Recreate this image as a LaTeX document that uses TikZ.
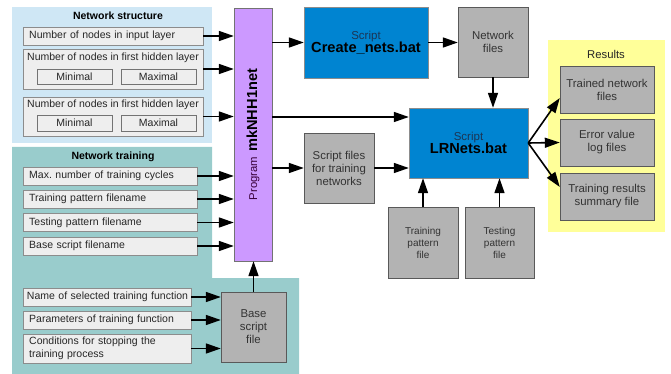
\documentclass[tikz,border=0pt]{standalone}
\usepackage{fontspec}
\setmainfont{Liberation Sans}
\usepackage{xcolor}
\usetikzlibrary{arrows.meta}

\definecolor{structbg}{HTML}{CFE7F5}
\definecolor{trainbg}{HTML}{99CCCC}
\definecolor{resbg}{HTML}{FFFF99}
\definecolor{progfill}{HTML}{CC99FF}
\definecolor{scriptfill}{HTML}{0084D1}
\definecolor{filefill}{HTML}{B3B3B3}
\definecolor{fieldfill}{HTML}{EEEEEE}
\definecolor{scripttext}{HTML}{1B3555}

\begin{document}
\begin{tikzpicture}[x=1pt, y=-1pt,
  field/.style={draw=black!45, fill=fieldfill, text=black!85,
                font=\fontsize{10.5}{12.5}\selectfont, align=left, anchor=west,
                inner xsep=6pt, inner ysep=0pt, minimum height=18pt},
  fieldgroup/.style={draw=black!45, fill=fieldfill, minimum width=180pt, inner sep=0pt},
  fieldhead/.style={text=black!85, font=\fontsize{10.5}{12.5}\selectfont, inner sep=0pt},
  choice/.style={draw=black!55, fill=fieldfill, text=black!85,
                 font=\fontsize{10.5}{12.5}\selectfont,
                 minimum width=75pt, minimum height=15pt, inner sep=0pt},
  filebox/.style={draw=black!65, fill=filefill, text=black!80, align=center,
                  font=\fontsize{11.4}{13}\selectfont, inner sep=0pt,
                  minimum width=70pt, minimum height=70pt},
  resultbox/.style={filebox, minimum width=94pt, minimum height=47pt},
  scriptbox/.style={draw=black!45, fill=scriptfill, align=center, inner sep=0pt},
  paneltitle/.style={font=\fontsize{10.5}{12.5}\selectfont\bfseries, inner sep=0pt},
  arr/.style={-{Triangle[length=15pt,width=10pt]}, line width=1.6pt},
]
  \useasboundingbox (0,0) rectangle (671,374);

  %% panels
  \fill[structbg] (12,7) rectangle (212,143);
  \fill[trainbg] (12,147) -- (212,147) -- (212,278) -- (299,278)
                 -- (299,374) -- (12,374) -- cycle;
  \fill[resbg] (548,40) rectangle (665,232);

  %% network structure
  \node[paneltitle] (structtitle) at (118,16) {Network structure};
  \node[field, text width=168pt] (inlayer) at (23,36) {Number of nodes in input layer};
  \node[fieldgroup, minimum height=40pt] (hidA) at (113,69) {};
  \node[fieldhead] (hidAtext) at (113,58) {Number of nodes in first hidden layer};
  \node[choice] (hidAmin) at (74.5,76.5) {Minimal};
  \node[choice] (hidAmax) at (158.5,76.5) {Maximal};
  \node[fieldgroup, minimum height=39pt] (hidB) at (113,116.5) {};
  \node[fieldhead] (hidBtext) at (113,105) {Number of nodes in first hidden layer};
  \node[choice, minimum height=16pt] (hidBmin) at (74.5,123) {Minimal};
  \node[choice, minimum height=16pt] (hidBmax) at (158.5,123) {Maximal};

  %% network training
  \node[paneltitle] (traintitle) at (113,157) {Network training};
  \node[field, text width=162pt] (cycles)    at (23,176)   {Max.\ number of training cycles};
  \node[field, text width=162pt] (trainname) at (23,199)   {Training pattern filename};
  \node[field, text width=162pt] (testname)  at (23,222.5) {Testing pattern filename};
  \node[field, text width=162pt] (basename)  at (23,246)   {Base script filename};
  \node[field, text width=164pt, inner xsep=2pt] (funcname) at (23,297)
    {\,Name of selected training function};
  \node[field, text width=156pt] (funcpar)   at (23,320)   {Parameters of training function};
  \node[field, text width=156pt, minimum height=29pt] (stopcond) at (23,348.5)
    {Conditions for stopping the\\training process};

  %% program and files
  \node[draw=black!55, fill=progfill, minimum width=38pt, minimum height=253pt,
        inner sep=0pt] (prog) at (253,134.5) {};
  \node[rotate=90, inner sep=0pt] (proglabel) at (prog.center)
    {{\fontsize{11.3}{13}\selectfont\color{violet!45!black}Program}\enspace
     {\fontsize{14.6}{16}\selectfont\bfseries mkNHH1net}};
  \node[filebox, minimum width=65pt] (basefile) at (253.5,327) {Base\\script\\file};
  \node[scriptbox, minimum width=124pt, minimum height=71pt] (create) at (366,42.5)
    {{\fontsize{11.5}{13}\selectfont\color{scripttext}Script}\\[-1pt]
     {\fontsize{14.6}{16}\selectfont\bfseries Create\_nets.bat}};
  \node[filebox] (netfiles) at (493,42) {Network\\files};
  \node[filebox] (scriptfiles) at (339,168) {Script files\\for training\\networks};
  \node[scriptbox, minimum width=119pt, minimum height=70pt] (lrnets) at (468.5,143)
    {{\fontsize{11.5}{13}\selectfont\color{scripttext}Script}\\[-1pt]
     {\fontsize{14.6}{16}\selectfont\bfseries LRNets.bat}};
  \node[filebox, minimum height=71pt, font=\fontsize{10}{12}\selectfont]
    (trainpat) at (423,242.5) {Training\\pattern\\file};
  \node[filebox, minimum width=69pt, minimum height=71pt, font=\fontsize{10}{12}\selectfont]
    (testpat) at (499.5,242.5) {Testing\\pattern\\file};

  %% results
  \node[font=\fontsize{11.3}{13}\selectfont, text=black!85] (restitle) at (606,54) {Results};
  \node[resultbox] (trained) at (607,89.5)  {Trained network\\files};
  \node[resultbox] (errlog)  at (607,142.5) {Error value\\log files};
  \node[resultbox] (summary) at (607,196.5) {Training results\\summary file};

  %% inputs to the program
  \draw[arr] (inlayer.east) -- (inlayer.east -| prog.west);
  \draw[arr] (hidA.east) -- (hidA.east -| prog.west);
  \draw[arr] (hidB.east) -- (hidB.east -| prog.west);
  \draw[arr] (cycles.east) -- (cycles.east -| prog.west);
  \draw[arr] (trainname.east) -- (trainname.east -| prog.west);
  \draw[arr] (testname.east) -- (testname.east -| prog.west);
  \draw[arr] (basename.east) -- (basename.east -| prog.west);
  \draw[arr] (funcname.east) -- (funcname.east -| basefile.west);
  \draw[arr] (funcpar.east) -- (funcpar.east -| basefile.west);
  \draw[arr] (stopcond.east) -- (stopcond.east -| basefile.west);
  \draw[arr] (basefile.north) -- (basefile.north |- prog.south);

  %% program outputs
  \coordinate (lrin) at ([yshift=26pt]lrnets.west);
  \draw[arr] (prog.east |- create.west) -- (create.west);
  \draw[arr] (prog.east |- lrin) -- (lrin);
  \draw[arr] (prog.east |- scriptfiles.west) -- (scriptfiles.west);
  \draw[arr] (scriptfiles.east) -- (scriptfiles.east -| lrnets.west);
  \draw[arr] (create.east) -- (create.east -| netfiles.west);
  \draw[arr] (netfiles.south) -- (netfiles.south |- lrnets.north);
  \draw[arr] (trainpat.north) -- (trainpat.north |- lrnets.south);
  \draw[arr] (testpat.north) -- (testpat.north |- lrnets.south);
  \draw[arr] (lrnets.east) -- ([yshift=-8.5pt]trained.west);
  \draw[arr] (lrnets.east) -- (errlog.west);
  \draw[arr] (lrnets.east) -- ([yshift=9.5pt]summary.west);
\end{tikzpicture}
\end{document}
